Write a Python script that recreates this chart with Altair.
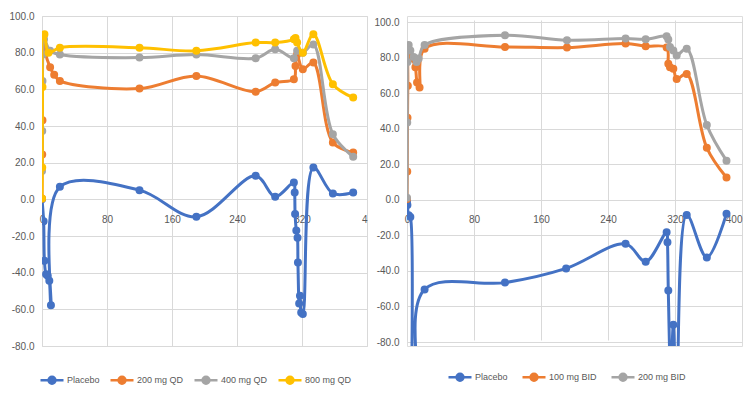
import altair as alt
import pandas as pd

# ---------------- Left panel (QD dosing) ----------------
L_SERIES = ["Placebo", "200 mg QD", "400 mg QD", "800 mg QD"]
L_COLORS = ["#4472C4", "#ED7D31", "#A5A5A5", "#FFC000"]

L_PLACEBO_X = [0, 2, 3, 5, 7, 9, 11, 22, 120, 190, 263, 287, 310, 311, 311.5, 313, 314.5, 315, 316.5, 317.5, 319, 321, 334, 358, 383]
L_PLACEBO_Y = [0, -12, -33.5, -40.8, -41.7, -44.4, -57.8, 6.8, 5.0, -9.5, 12.8, 1.4, 9.2, 3.7, -8, -17, -21, -34.4, -56.8, -52.6, -61.7, -62.6, 17.3, 3.2, 3.7]

L_200_X = [0, 0.3, 0.6, 1.5, 4, 10, 15, 22, 120, 190, 263, 287, 310, 312, 314, 321, 334, 358, 383]
L_200_Y = [0.5, 24.5, 43.2, 89, 80, 72, 68, 64.6, 60.4, 67.3, 58.7, 63.7, 65.5, 72.7, 79, 71, 74.6, 31, 25.5]

L_400_X = [0, 0.3, 0.6, 1, 2.5, 10, 22, 120, 190, 263, 287, 310, 314, 321, 334, 358, 383]
L_400_Y = [15.5, 37.3, 64.6, 79, 87.3, 81, 79, 77.3, 79, 77, 81.8, 77, 81, 80, 84.5, 35.5, 23.2]

L_800_X = [0, 0.3, 0.6, 1, 3, 8, 22, 120, 190, 263, 287, 310, 312, 314, 321, 334, 358, 383]
L_800_Y = [0.5, 17.3, 61.3, 89, 90, 80, 82.7, 82.7, 81, 85.5, 85.5, 87.3, 88, 85.5, 80, 90, 62.8, 55.5]

# ---------------- Right panel (BID dosing) ----------------
R_SERIES = ["Placebo", "100 mg BID", "200 mg BID"]
R_COLORS = ["#4472C4", "#ED7D31", "#A5A5A5"]

R_PLACEBO_X = [0, 0.5, 2, 4, 6, 12, 21, 117, 190, 261, 285, 310, 311, 312, 315, 318, 322, 334, 358, 381.5]
R_PLACEBO_Y = [-1, -3, -8.7, -9.7, -140, -110, -50.4, -46.6, -38.6, -24.8, -34.8, -18.2, -23.9, -51, -100, -70.3, -110, -8.5, -32.4, -7.8]

R_100_X = [0, 0.3, 0.6, 1, 2, 6, 10, 12, 15, 21, 117, 191, 261, 285, 310, 312, 314, 318, 322, 334, 358, 381.5]
R_100_Y = [0.5, 15.9, 46.2, 64.2, 84, 79.4, 74.6, 66, 63.2, 85, 86, 85.6, 87.9, 86.4, 85.6, 76.5, 74.6, 73.7, 68, 70.8, 29.2, 12.5]

R_200_X = [0, 0.3, 0.6, 2, 4, 8, 11.5, 14, 21, 117, 191, 261, 285, 310, 312, 314, 318, 322, 334, 358, 381.5]
R_200_Y = [1.1, 43.4, 77.5, 87, 84, 80.3, 77.5, 79.4, 87, 92.6, 89.8, 90.7, 90.3, 92, 90.2, 86, 84, 81.2, 85, 42, 22]

# ---------------- Axes ----------------
X_TICKS = [0, 80, 160, 240, 320, 400]
Y_TICKS = [-80, -60, -40, -20, 0, 20, 40, 60, 80, 100]
Y_DOMAIN = [-80, 100]

TEXT = "#595959"
GRID = "#D9D9D9"
FONT = "Liberation Sans"
LEGEND_PATH = "M-1,0H1M-0.3,0A0.3,0.3 0 1,0 0.3,0A0.3,0.3 0 1,0 -0.3,0Z"

H = 330


def frame(series_names, xs_list, ys_list):
    rows = []
    for name, xs, ys in zip(series_names, xs_list, ys_list):
        for i, (x, y) in enumerate(zip(xs, ys)):
            rows.append({"series": name, "t": x, "v": y, "i": i})
    return pd.DataFrame(rows)


def panel(df, names, colors, width, y_range, x_offset, x_label_expr, x_label_align,
          legend_x, legend_y, col_pad):
    xsc = alt.Scale(domain=[0, 400], nice=False, zero=False)
    ysc = alt.Scale(domain=Y_DOMAIN, nice=False, zero=False, range=y_range)
    xax = alt.Axis(values=X_TICKS, grid=True, gridColor=GRID, domain=False, ticks=False,
                   labelFlush=False, labelPadding=15, offset=x_offset, title=None,
                   labelExpr=x_label_expr, labelAlign=alt.ExprRef(expr=x_label_align),
                   labelColor=TEXT, labelFont=FONT, labelFontSize=10)
    yax = alt.Axis(values=Y_TICKS, grid=True, gridColor=GRID, domain=False, ticks=False,
                   labelPadding=8, title=None, minExtent=33, maxExtent=33,
                   labelExpr="replace(format(datum.value, '.1f'), '\u2212', '-')",
                   labelColor=TEXT, labelFont=FONT, labelFontSize=10)
    scol = alt.Scale(domain=names, range=colors)
    leg = alt.Legend(title=None, orient="none", direction="horizontal",
                     legendX=legend_x, legendY=legend_y,
                     symbolType=LEGEND_PATH, symbolSize=529, symbolStrokeWidth=2.5,
                     labelColor=TEXT, labelFont=FONT, labelFontSize=9,
                     labelOffset=2, columnPadding=col_pad)
    layers = []
    for name in names:
        sub = alt.Chart(df).transform_filter(alt.datum.series == name)
        line = sub.mark_line(interpolate="catmull-rom", strokeWidth=3, clip=True).encode(
            x=alt.X("t:Q", scale=xsc, axis=xax),
            y=alt.Y("v:Q", scale=ysc, axis=yax),
            stroke=alt.Stroke("series:N", scale=scol, legend=leg),
            order="i:Q",
        )
        pts = sub.mark_point(filled=True, size=36, opacity=1, clip=True).encode(
            x=alt.X("t:Q", scale=xsc, axis=xax),
            y=alt.Y("v:Q", scale=ysc, axis=yax),
            fill=alt.Fill("series:N", scale=scol, legend=leg),
            stroke=alt.Stroke("series:N", scale=scol, legend=leg),
        )
        layers += [line, pts]
    return alt.layer(*layers).properties(width=width, height=H)


left_df = frame(L_SERIES, [L_PLACEBO_X, L_200_X, L_400_X, L_800_X],
                [L_PLACEBO_Y, L_200_Y, L_400_Y, L_800_Y])
right_df = frame(R_SERIES, [R_PLACEBO_X, R_100_X, R_200_X],
                 [R_PLACEBO_Y, R_100_Y, R_200_Y])

left_zero = H * 100 / 180
right_zero = 6 + 320 * 100 / 180

left = panel(left_df, L_SERIES, L_COLORS, 325, [H, 0], -(H - left_zero),
             "datum.value == 400 ? '4' : datum.label",
             "datum.value == 400 ? 'right' : 'center'", -3, 351, 5)
right = panel(right_df, R_SERIES, R_COLORS, 335, [326, 6], -(H - right_zero),
              "datum.label", "datum.value == 400 ? 'right' : 'center'", 40, 348, 9)

chart = alt.hconcat(left, right, spacing=40, bounds="flush").resolve_scale(
    stroke="independent", fill="independent"
).resolve_legend(stroke="independent", fill="independent").properties(
    padding={"left": 0, "top": 2, "right": 0, "bottom": 0}
).configure_view(stroke=None).configure(background="white")

chart.save("out.html", embed_options={"renderer": "svg", "actions": False})
